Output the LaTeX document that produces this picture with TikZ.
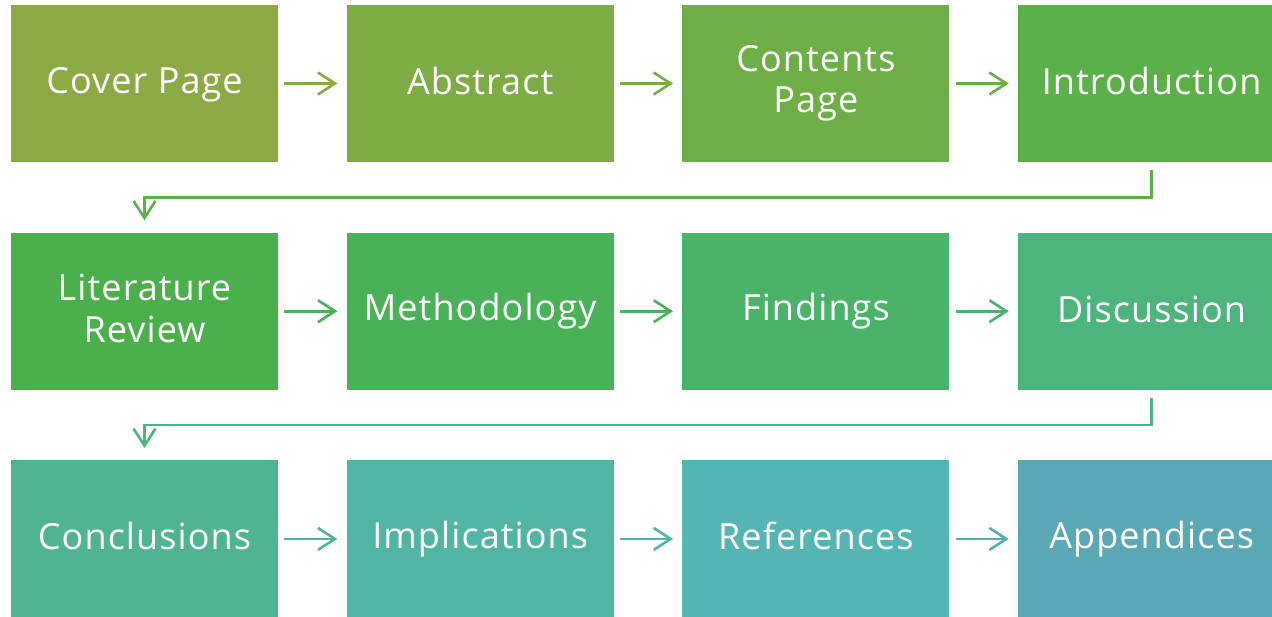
\documentclass[tikz,border=0pt]{standalone}
\usepackage{fontspec}
\setmainfont{Open Sans}[LetterSpace=3]
\usetikzlibrary{positioning,arrows.meta}

\definecolor{cover}{HTML}{8BAA44}
\definecolor{abstract}{HTML}{7DAC44}
\definecolor{contents}{HTML}{6DAF46}
\definecolor{intro}{HTML}{5CB049}
\definecolor{litrev}{HTML}{4BB04B}
\definecolor{method}{HTML}{49B157}
\definecolor{findings}{HTML}{4AB269}
\definecolor{discuss}{HTML}{4EB47D}
\definecolor{conclude}{HTML}{50B491}
\definecolor{implic}{HTML}{52B5A3}
\definecolor{refs}{HTML}{55B5B4}
\definecolor{append}{HTML}{5AA7B5}

% same height and depth for every line of box text
\newcommand{\boxstrut}{\rule[-3.5pt]{0pt}{19.5pt}}

\begin{document}
\begin{tikzpicture}[
	node distance=1.4cm and 1.36cm,
	every node/.style={font=\fontsize{20.5}{23.5}\selectfont},
	box/.style={align=center, text=white, minimum width=5.34cm, minimum height=3.14cm, inner sep=0pt,
		execute at begin node=\boxstrut, execute at end node=\boxstrut},
	arrow/.style={-{Straight Barb[length=3.4mm, width=4.4mm]}, line width=1.5pt, shorten <=1.2mm, shorten >=1.8mm},
	turn/.style={arrow, shorten <=1.6mm, shorten >=2.4mm}
	]
	
	\clip (0,0) rectangle (25.44,-12.32);
	
	\node[box, fill=cover] (A) at (2.89,-1.67) {Cover Page};
	\node[box, fill=abstract, right=of A] (B) {Abstract};
	\node[box, fill=contents, right=of B] (C) {Contents\\Page};
	\node[box, fill=intro, right=of C] (D) {Introduction};
	
	\node[box, fill=litrev, below=of A] (E) {Literature\\Review};
	\node[box, fill=method, right=of E] (F) {Methodology};
	\node[box, fill=findings, right=of F] (G) {Findings};
	\node[box, fill=discuss, right=of G] (H) {Discussion};
	
	\node[box, fill=conclude, below=of E] (I) {Conclusions};
	\node[box, fill=implic, right=of I] (J) {Implications};
	\node[box, fill=refs, right=of J] (K) {References};
	\node[box, fill=append, right=of K] (L) {Appendices};
	
	\draw[arrow, cover!60!abstract] (A) -- (B);
	\draw[arrow, abstract!60!contents] (B) -- (C);
	\draw[arrow, contents!60!intro] (C) -- (D);
	\draw[turn, intro] (D.south) -- ++(0,-0.7) -| (E.north);
	
	\draw[arrow, litrev!60!method] (E) -- (F);
	\draw[arrow, method!60!findings] (F) -- (G);
	\draw[arrow, findings!60!discuss] (G) -- (H);
	\draw[turn, discuss] (H.south) -- ++(0,-0.7) -| (I.north);
	
	\draw[arrow, conclude!60!implic] (I) -- (J);
	\draw[arrow, implic!60!refs] (J) -- (K);
	\draw[arrow, refs!40!append] (K) -- (L);
	
\end{tikzpicture}
\end{document}
